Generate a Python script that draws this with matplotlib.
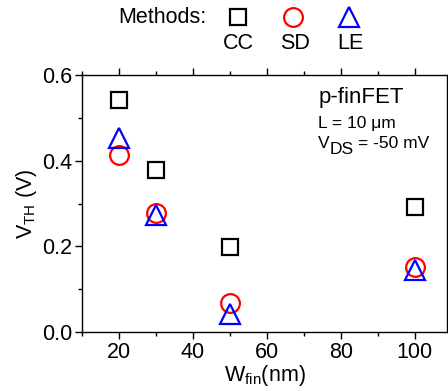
''' p-finFET threshold voltage vs fin width '''
import matplotlib
matplotlib.use('Agg')
import matplotlib.pyplot as plt
from matplotlib.lines import Line2D
from matplotlib.ticker import MultipleLocator

plt.rcParams['font.family'] = ['Liberation Sans', 'DejaVu Sans']
plt.rcParams['mathtext.fontset'] = 'custom'
plt.rcParams['mathtext.rm'] = 'Liberation Sans'

W_FIN = [20, 30, 50, 100]
VTH_CC = [0.542, 0.378, 0.199, 0.292]
VTH_SD = [0.414, 0.278, 0.068, 0.152]
VTH_LE = [0.452, 0.273, 0.042, 0.145]
METHODS = ['CC', 'SD', 'LE']

FS = 15.5
SMALL = 12.5


def main():
    '''main function'''
    fig = plt.figure(figsize=(4.48, 3.91), dpi=100)
    ax = fig.add_axes([0.183, 0.151, 0.815, 0.657])

    ax.plot(W_FIN, VTH_CC, 's', ms=12, mfc='none', mec='black', mew=1.6)
    ax.plot(W_FIN, VTH_SD, 'o', ms=13.5, mfc='none', mec='red', mew=1.6)
    ax.plot(W_FIN, VTH_LE, '^', ms=14, mfc='none', mec='blue', mew=1.6)

    ax.set_xlim(10, 108.7)
    ax.set_ylim(0, 0.6)
    ax.xaxis.set_major_locator(MultipleLocator(20))
    ax.xaxis.set_minor_locator(MultipleLocator(10))
    ax.yaxis.set_major_locator(MultipleLocator(0.2))
    ax.yaxis.set_minor_locator(MultipleLocator(0.1))
    ax.yaxis.set_major_formatter(plt.FormatStrFormatter('%.1f'))
    ax.tick_params(which='both', direction='out', top=True, right=True,
                   labelsize=FS, width=1, pad=2)
    ax.tick_params(which='major', length=5)
    ax.tick_params(which='minor', length=3)
    for sp in ax.spines.values():
        sp.set_linewidth(1)

    ax.set_xlabel(r'W$_{\mathrm{fin}}$(nm)', fontsize=FS, labelpad=0)
    ax.set_ylabel(r'V$_{\mathrm{TH}}$ (V)', fontsize=FS, labelpad=2)

    ax.text(0.647, 0.891, 'p-finFET', transform=ax.transAxes, fontsize=16,
            va='baseline')
    ax.text(0.647, 0.794, 'L = 10 μm', transform=ax.transAxes, fontsize=SMALL,
            va='baseline')
    # V_DS with a full-size subscript, like the original
    ax.annotate('V', (0.647, 0.716), xycoords='axes fraction',
                fontsize=SMALL, va='baseline')
    ax.annotate('DS', (0.647, 0.716), xycoords='axes fraction',
                xytext=(0.667 * SMALL, -4), textcoords='offset points',
                fontsize=SMALL, va='baseline')
    ax.annotate('= -50 mV', (0.647, 0.716), xycoords='axes fraction',
                xytext=(0.667 * SMALL + 1.389 * SMALL + 3, 0),
                textcoords='offset points', fontsize=SMALL, va='baseline')

    # legend: markers in a row, labels below
    handles = [
        Line2D([], [], ls='none', marker='s', ms=12, mfc='none', mec='black', mew=1.6),
        Line2D([], [], ls='none', marker='o', ms=13.5, mfc='none', mec='red', mew=1.6),
        Line2D([], [], ls='none', marker='^', ms=14, mfc='none', mec='blue', mew=1.6),
    ]
    fig.legend(handles, ['', '', ''], ncol=3, frameon=False,
               loc='center', bbox_to_anchor=(0.655, 0.955),
               handlelength=1.0, handletextpad=0, columnspacing=3.0)
    fig.text(0.265, 0.955, 'Methods:', fontsize=FS, va='center')
    for name, xpos in zip(METHODS, [0.531, 0.659, 0.781]):
        fig.text(xpos, 0.888, name, fontsize=FS, va='center', ha='center')

    fig.savefig('out.png', dpi=100)


if __name__ == "__main__":
    main()
